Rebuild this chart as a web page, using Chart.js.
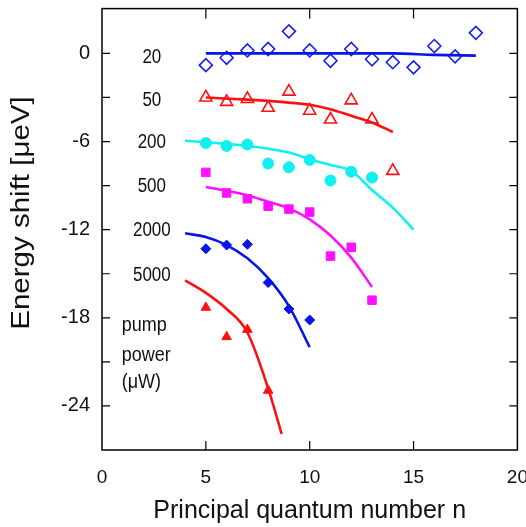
<!DOCTYPE html>
<html>
<head>
<meta charset="utf-8">
<script src="https://cdn.jsdelivr.net/npm/chart.js@4"></script>
<style>
  html, body { margin: 0; padding: 0; background: #fff; }
  #wrap { width: 526px; height: 527px; }
</style>
</head>
<body>
<div id="wrap"><canvas id="chart" width="526" height="527"></canvas></div>
<script>
// measured points (principal quantum number n -> energy shift in ueV)
const n20 = [5, 6, 7, 8, 9, 10, 11, 12, 13, 14, 15, 16, 17, 18];
const pts20 = [-0.8, -0.3, 0.2, 0.3, 1.5, 0.2, -0.5, 0.3, -0.4, -0.6, -0.95, 0.5, -0.2, 1.4];
const n50 = [5, 6, 7, 8, 9, 10, 11, 12, 13, 14];
const pts50 = [-3.0, -3.3, -3.1, -3.7, -2.6, -3.9, -4.5, -3.2, -4.5, -8.0];
const n200 = [5, 6, 7, 8, 9, 10, 11, 12, 13];
const pts200 = [-6.1, -6.3, -6.2, -7.5, -7.75, -7.25, -8.65, -8.05, -8.45];
const n500 = [5, 6, 7, 8, 9, 10, 11, 12, 13];
const pts500 = [-8.1, -9.5, -9.9, -10.4, -10.6, -10.8, -13.8, -13.2, -16.8];
const n2000 = [5, 6, 7, 8, 9, 10];
const pts2000 = [-13.3, -13.05, -13.0, -15.6, -17.4, -18.15];
const n5000 = [5, 6, 7, 8];
const pts5000 = [-17.3, -19.3, -18.8, -22.95];

// fitted curves
const fitN20 = [5, 10, 14, 16, 18];
const fit20 = [0, 0, 0, -0.1, -0.15];
const fitN50 = [5, 7, 9, 10, 11, 12, 13, 14];
const fit50 = [-3.0, -3.15, -3.35, -3.5, -3.8, -4.25, -4.7, -5.35];
const fitN200 = [4, 5, 7, 9, 10, 11, 12, 13, 14, 15];
const fit200 = [-5.95, -6.05, -6.3, -6.75, -7.2, -7.6, -8.0, -9.3, -10.5, -12.0];
const fitN500 = [5, 6, 7, 8, 9, 10, 11, 12, 13];
const fit500 = [-9.1, -9.35, -9.65, -10.1, -10.55, -11.3, -12.4, -13.9, -15.9];
const fitN2000 = [4, 5, 6, 7, 8, 9, 10];
const fit2000 = [-12.25, -12.5, -13.05, -13.95, -15.3, -17.2, -20.0];
const fitN5000 = [4, 5, 6, 7, 8, 8.65];
const fit5000 = [-15.45, -16.3, -17.4, -19.0, -22.8, -25.9];

// pump power labels, each sits just under one y tick
const powerLabels = ['20', '50', '200', '500', '2000', '5000'];
const powerLabelY = [-0.3, -3.25, -6.05, -9.1, -12.1, -15.1];
const noteLines = ['pump', 'power', '(\u03bcW)'];
const noteY = [-18.5, -20.6, -22.4];

const xTicks = [0, 5, 10, 15, 20];
const yTicks = [0, -6, -12, -18, -24];
const yTitle = 'Energy shift [\u03bceV]';

const FONT = '"Liberation Sans", Arial, sans-serif';

function pairs(xs, ys) {
    return xs.map(function (x, i) { return { x: x, y: ys[i] }; });
}

function fitSet(xs, ys, color) {
    return {
        data: pairs(xs, ys),
        showLine: true,
        borderColor: color,
        borderWidth: 2.6,
        pointRadius: 0,
        cubicInterpolationMode: 'monotone',
        fill: false
    };
}

function dotSet(xs, ys, color, style, radius, filled) {
    return {
        data: pairs(xs, ys),
        showLine: false,
        pointStyle: style,
        pointRadius: radius,
        pointBorderColor: color,
        pointBackgroundColor: filled ? color : 'rgba(0,0,0,0)',
        pointBorderWidth: filled ? 1 : 1.6
    };
}

// frame, inward ticks, y title and text inside the plot
const extras = {
    id: 'extras',
    afterDraw(chart) {
        const ctx = chart.ctx;
        const a = chart.chartArea;
        const xs = chart.scales.x;
        const ys = chart.scales.y;
        ctx.save();
        ctx.strokeStyle = '#000';
        ctx.lineWidth = 1.5;
        ctx.strokeRect(a.left, a.top, a.right - a.left, a.bottom - a.top);

        ctx.lineWidth = 1.2;
        ctx.beginPath();
        [5, 10, 15].forEach(function (v) {
            const px = xs.getPixelForValue(v);
            ctx.moveTo(px, a.bottom); ctx.lineTo(px, a.bottom - 9);
            ctx.moveTo(px, a.top); ctx.lineTo(px, a.top + 10);
        });
        for (let v = -24; v <= 0; v += 3) {
            const py = ys.getPixelForValue(v);
            ctx.moveTo(a.left, py); ctx.lineTo(a.left + 8, py);
            ctx.moveTo(a.right, py); ctx.lineTo(a.right - 8, py);
        }
        ctx.stroke();

        ctx.fillStyle = '#111';
        ctx.textBaseline = 'middle';
        ctx.textAlign = 'center';
        ctx.font = '17px ' + FONT;
        powerLabels.forEach(function (t, i) {
            ctx.save();
            ctx.translate(xs.getPixelForValue(2.4), ys.getPixelForValue(powerLabelY[i]));
            ctx.scale(1, 1.14);
            ctx.fillText(t, 0, 0);
            ctx.restore();
        });
        ctx.textAlign = 'left';
        ctx.font = '18px ' + FONT;
        noteLines.forEach(function (t, i) {
            ctx.save();
            ctx.translate(xs.getPixelForValue(0.95), ys.getPixelForValue(noteY[i]));
            ctx.scale(1, 1.1);
            ctx.fillText(t, 0, 0);
            ctx.restore();
        });

        // y title, stretched a little along its length like the original
        ctx.translate(22, 213);
        ctx.rotate(-Math.PI / 2);
        ctx.scale(1.18, 1);
        ctx.textAlign = 'center';
        ctx.font = '25px ' + FONT;
        ctx.fillText(yTitle, 0, 0);
        ctx.restore();
    }
};

const ctx = document.getElementById('chart').getContext('2d');
const chart = new Chart(ctx, {
    type: 'scatter',
    data: {
        datasets: [
            fitSet(fitN20, fit20, '#0a14e6'),
            fitSet(fitN50, fit50, '#ff1010'),
            fitSet(fitN200, fit200, '#10f0f0'),
            fitSet(fitN500, fit500, '#ff10ff'),
            fitSet(fitN2000, fit2000, '#0a14e6'),
            fitSet(fitN5000, fit5000, '#ff1010'),
            dotSet(n20, pts20, '#1420f0', 'rectRot', 6.5, false),
            dotSet(n50, pts50, '#ff1010', 'triangle', 7, false),
            dotSet(n200, pts200, '#10f0f0', 'circle', 5.5, true),
            dotSet(n500, pts500, '#ff10ff', 'rect', 6, true),
            dotSet(n2000, pts2000, '#0a14e6', 'rectRot', 5, true),
            dotSet(n5000, pts5000, '#ff1010', 'triangle', 5.5, true)
        ]
    },
    options: {
        responsive: false,
        animation: false,
        layout: { padding: { top: 7, right: 8, left: 0, bottom: 0 } },
        plugins: {
            legend: { display: false },
            tooltip: { enabled: false }
        },
        scales: {
            x: {
                type: 'linear',
                min: 0,
                max: 20,
                afterBuildTicks: function (s) { s.ticks = xTicks.map(function (v) { return { value: v }; }); },
                grid: { display: false, drawTicks: false },
                border: { display: false },
                ticks: {
                    padding: 16,
                    color: '#111',
                    font: { size: 19, family: FONT }
                },
                title: {
                    display: true,
                    text: 'Principal quantum number n',
                    color: '#111',
                    padding: { top: 0, bottom: 1 },
                    font: { size: 25, family: FONT }
                },
                afterFit: function (s) {
                    s.height = 77;
                    s.paddingLeft = 0;
                    s.paddingRight = 0;
                }
            },
            y: {
                type: 'linear',
                min: -27,
                max: 3.05,
                afterBuildTicks: function (s) { s.ticks = yTicks.map(function (v) { return { value: v }; }); },
                grid: { display: false, drawTicks: false },
                border: { display: false },
                ticks: {
                    padding: 12,
                    color: '#111',
                    font: { size: 20, family: FONT }
                },
                title: { display: false },
                afterFit: function (s) {
                    s.width = 102;
                    s.paddingTop = 0;
                    s.paddingBottom = 0;
                }
            }
        }
    },
    plugins: [extras]
});
</script>
</body>
</html>
